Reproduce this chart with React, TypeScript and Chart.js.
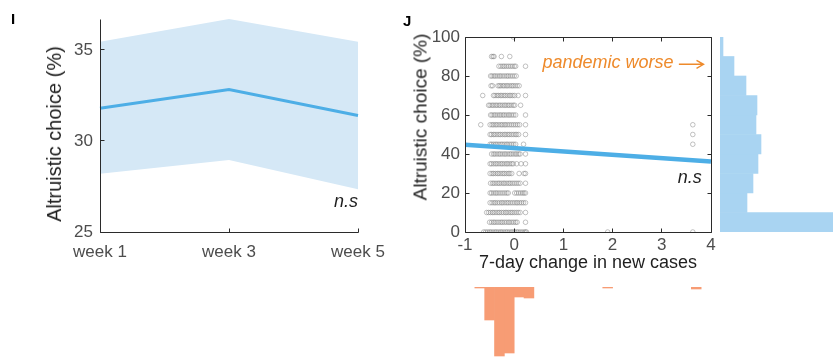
import React, { useEffect, useRef } from "react";
import { Chart, registerables } from "chart.js";
Chart.register(...registerables);

// ---------- Panel I data ----------
const weekLabels = ["week 1", "week 3", "week 5"];
const weekMean = [31.8, 32.83, 31.4];
const weekUpper = [35.45, 36.7, 35.45];
const weekLower = [28.2, 28.95, 27.35];
const weekTicks = [25, 30, 35];

// ---------- Panel J data ----------
const choiceLevels = [100, 90, 85, 80, 75, 70, 65, 60, 55, 50, 45, 40, 35, 30, 25, 20, 15, 10, 5, 0];
const caseChangeByLevel = [
  [-0.02],
  [-0.46, -0.43, -0.41, -0.26, -0.09],
  [-0.31, -0.27, -0.23, -0.2, -0.16, -0.12, -0.08, -0.04, 0.0, 0.03, 0.23],
  [-0.48, -0.45, -0.41, -0.38, -0.34, -0.3, -0.27, -0.23, -0.19, -0.15, -0.12, -0.08, -0.04, 0.0, 0.04],
  [-0.47, -0.44, -0.33, -0.3, -0.27, -0.23, -0.2, -0.16, -0.13, -0.09, -0.05, -0.02, 0.02, 0.06, 0.1],
  [-0.64, -0.42, -0.39, -0.35, -0.32, -0.28, -0.25, -0.21, -0.18, -0.14, -0.1, -0.07, -0.03, 0.01, 0.08, 0.23],
  [-0.52, -0.49, -0.45, -0.42, -0.38, -0.35, -0.31, -0.28, -0.24, -0.2, -0.17, -0.13, -0.1, -0.06, -0.02, 0.01, 0.13],
  [-0.48, -0.45, -0.41, -0.38, -0.34, -0.3, -0.27, -0.23, -0.2, -0.16, -0.12, -0.09, -0.05, -0.01, 0.03, 0.23],
  [-0.68, -0.49, -0.45, -0.42, -0.38, -0.35, -0.31, -0.27, -0.24, -0.2, -0.17, -0.13, -0.09, -0.05, -0.01, 0.03, 0.07, 0.11, 0.23, 3.63],
  [-0.49, -0.46, -0.42, -0.39, -0.35, -0.31, -0.28, -0.24, -0.2, -0.17, -0.13, -0.1, -0.06, -0.02, 0.02, 0.05, 0.09, 0.23, 3.63],
  [-0.49, -0.46, -0.42, -0.38, -0.35, -0.31, -0.27, -0.24, -0.2, -0.16, -0.13, -0.09, -0.05, -0.01, 0.03, 0.19, 3.63],
  [-0.46, -0.42, -0.39, -0.35, -0.31, -0.28, -0.24, -0.2, -0.17, -0.13, -0.09, -0.06, -0.02, 0.02, 0.05, 0.09, 0.12, 0.23],
  [-0.49, -0.46, -0.42, -0.38, -0.35, -0.31, -0.27, -0.24, -0.2, -0.16, -0.13, -0.09, -0.05, -0.02, 0.05, 0.14, 0.23],
  [-0.49, -0.45, -0.42, -0.38, -0.34, -0.31, -0.27, -0.23, -0.2, -0.16, -0.12, -0.09, -0.05, 0.1, 0.2, 0.23],
  [-0.48, -0.44, -0.41, -0.37, -0.33, -0.3, -0.26, -0.22, -0.19, -0.15, -0.11, -0.08, -0.04, 0.0, 0.04, 0.08, 0.12, 0.23],
  [-0.49, -0.46, -0.42, -0.38, -0.35, -0.31, -0.27, -0.23, -0.19, -0.15, -0.12, 0.01, 0.05, 0.09, 0.13, 0.17, 0.2, 0.23],
  [-0.49, -0.45, -0.41, -0.38, -0.34, -0.3, -0.26, -0.23, -0.19, -0.15, -0.12, -0.08, -0.04, 0.0, 0.04, 0.07, 0.11, 0.15, 0.19, 0.23],
  [-0.56, -0.52, -0.48, -0.44, -0.41, -0.37, -0.33, -0.3, -0.26, -0.22, -0.18, -0.15, -0.11, -0.07, -0.04, 0.0, 0.04, 0.08, 0.12, 0.23],
  [-0.5, -0.46, -0.42, -0.39, -0.35, -0.31, -0.27, -0.24, -0.2, -0.16, -0.12, -0.09, -0.05, -0.01, 0.03, 0.06, 0.23],
  [-0.62, -0.58, -0.54, -0.5, -0.47, -0.43, -0.39, -0.36, -0.32, -0.28, -0.25, -0.21, -0.17, -0.14, -0.1, -0.06, -0.03, 0.01, 0.05, 0.08, 0.12, 0.16, 0.2, 0.23, 0.25, 1.9, 3.63],
];
const fitX = [-1, 4];
const fitY = [44.8, 36.2];

const choiceBinCenters = [5, 15, 25, 35, 45, 55, 65, 75, 85, 95];
const choiceBinCounts = [115, 27, 33, 38, 41, 36, 37, 26, 14, 3];
const caseBinCenters = [-0.7, -0.5, -0.3, -0.1, 0.1, 0.3, 1.9, 3.7];
const caseBinCounts = [1, 33, 69, 66, 10, 11, 1, 2];

// ---------- style ----------
const FONT = '"Liberation Sans", Arial, Helvetica, sans-serif';
const TICK_COLOR = "#4d4d4d";
const TITLE_COLOR = "#1f1f1f";
const AXIS_COLOR = "#2b2b2b";
const LINE_BLUE = "#4DAEE6";
const BAND_BLUE = "#D5E8F6";
const HIST_BLUE = "#A9D4F2";
const HIST_ORANGE = "#F79C74";
const NOTE_ORANGE = "#EE8A2B";

function makeFrame(box: boolean) {
  return {
    id: "frame" + (box ? "Box" : "Open"),
    afterDraw(chart: any) {
      const { ctx, chartArea: a } = chart;
      const xs = chart.scales.x, ys = chart.scales.y;
      const L = Math.floor(a.left) + 0.5, R = Math.floor(a.right) + 0.5;
      const T = Math.floor(a.top) + 0.5, B = Math.floor(a.bottom) + 0.5;
      const len = 4;
      ctx.save();
      ctx.strokeStyle = AXIS_COLOR;
      ctx.lineWidth = 1;
      ctx.beginPath();
      if (box) {
        ctx.rect(L, T, R - L, B - T);
      } else {
        ctx.moveTo(L, T); ctx.lineTo(L, B); ctx.lineTo(R, B);
      }
      xs.ticks.forEach((_t: any, i: number) => {
        const px = Math.floor(xs.getPixelForTick(i)) + 0.5;
        ctx.moveTo(px, B); ctx.lineTo(px, B - len);
        if (box) { ctx.moveTo(px, T); ctx.lineTo(px, T + len); }
      });
      ys.ticks.forEach((_t: any, i: number) => {
        const py = Math.floor(ys.getPixelForTick(i)) + 0.5;
        ctx.moveTo(L, py); ctx.lineTo(L + len, py);
        if (box) { ctx.moveTo(R, py); ctx.lineTo(R - len, py); }
      });
      ctx.stroke();
      ctx.restore();
    },
  };
}

type Note = { x: number; y: number; text?: string; font?: string; color: string; align?: CanvasTextAlign; arrowTo?: number };
function makeNotes(id: string, items: Note[]) {
  return {
    id,
    afterDraw(chart: any) {
      const { ctx } = chart;
      const xs = chart.scales.x, ys = chart.scales.y;
      ctx.save();
      for (const it of items) {
        const px = xs.getPixelForValue(it.x), py = ys.getPixelForValue(it.y);
        if (it.text) {
          ctx.font = it.font;
          ctx.fillStyle = it.color;
          ctx.textAlign = it.align || "left";
          ctx.textBaseline = "alphabetic";
          ctx.fillText(it.text, px, py);
        }
        if (it.arrowTo !== undefined) {
          const qx = xs.getPixelForValue(it.arrowTo);
          ctx.strokeStyle = it.color;
          ctx.lineWidth = 1.4;
          ctx.beginPath();
          ctx.moveTo(px, py); ctx.lineTo(qx, py);
          ctx.moveTo(qx - 7, py - 4); ctx.lineTo(qx, py); ctx.lineTo(qx - 7, py + 4);
          ctx.stroke();
        }
      }
      ctx.restore();
    },
  };
}

const tickFont = { family: FONT, size: 17 };
const noGrid = { display: false, drawTicks: false };

export default function App() {
  const refI = useRef<HTMLCanvasElement>(null);
  const refJ = useRef<HTMLCanvasElement>(null);
  const refR = useRef<HTMLCanvasElement>(null);
  const refB = useRef<HTMLCanvasElement>(null);

  useEffect(() => {
    Chart.defaults.font.family = FONT;
    const charts: Chart[] = [];

    // Panel I
    charts.push(new Chart(refI.current!, {
      type: "line",
      data: {
        labels: weekLabels,
        datasets: [
          { data: weekUpper, borderColor: "rgba(0,0,0,0)", borderWidth: 0, pointRadius: 0, fill: "+1", backgroundColor: BAND_BLUE, order: 2 } as any,
          { data: weekLower, borderColor: "rgba(0,0,0,0)", borderWidth: 0, pointRadius: 0, fill: false, order: 2 },
          { data: weekMean, borderColor: LINE_BLUE, borderWidth: 3, pointRadius: 0, fill: false, order: 0 },
        ],
      },
      options: {
        responsive: false, animation: false, events: [],
        layout: { padding: { left: 0, top: 19, right: 42, bottom: 0 } },
        plugins: { legend: { display: false }, tooltip: { enabled: false } },
        scales: {
          x: {
            type: "category", offset: false,
            grid: noGrid, border: { display: false },
            ticks: { color: TICK_COLOR, font: tickFont, padding: 10, maxRotation: 0, autoSkip: false },
            afterFit: (s: any) => { s.height = 58; },
          },
          y: {
            min: 25, max: 36.7,
            grid: noGrid, border: { display: false },
            ticks: { color: TICK_COLOR, font: tickFont, padding: 7 },
            afterBuildTicks: (ax: any) => { ax.ticks = weekTicks.map((v) => ({ value: v })); },
            afterFit: (s: any) => { s.width = 100; },
          },
        },
      } as any,
      plugins: [makeFrame(false), makeNotes("notesI", [
        { x: 2, y: 26.37, text: "n.s", font: `italic 18px ${FONT}`, color: TITLE_COLOR, align: "right" },
      ])],
    }));

    // Panel J scatter
    const pts: { x: number; y: number }[] = [];
    choiceLevels.forEach((lv, i) => caseChangeByLevel[i].forEach((x) => pts.push({ x, y: lv })));
    charts.push(new Chart(refJ.current!, {
      type: "scatter",
      data: {
        datasets: [
          { type: "line", data: fitX.map((x, i) => ({ x, y: fitY[i] })), borderColor: LINE_BLUE, borderWidth: 4.5, pointRadius: 0, fill: false, order: 0 } as any,
          { type: "scatter", data: pts, pointRadius: 2.3, borderWidth: 1, borderColor: "rgba(120,120,120,0.45)", backgroundColor: "rgba(0,0,0,0)", order: 1 },
        ],
      },
      options: {
        responsive: false, animation: false, events: [],
        layout: { padding: { left: 0, top: 37, right: 9, bottom: 0 } },
        plugins: { legend: { display: false }, tooltip: { enabled: false } },
        scales: {
          x: {
            type: "linear", min: -1, max: 4,
            grid: noGrid, border: { display: false },
            ticks: { stepSize: 1, color: TICK_COLOR, font: tickFont, padding: 3, maxRotation: 0 },
            title: { display: true, text: "7-day change in new cases", color: TITLE_COLOR, font: { family: FONT, size: 18 }, padding: { top: 0, bottom: 6 } },
            afterFit: (s: any) => { s.height = 48; },
          },
          y: {
            type: "linear", min: 0, max: 100,
            grid: noGrid, border: { display: false },
            ticks: { stepSize: 20, color: TICK_COLOR, font: tickFont, padding: 5 },
            afterFit: (s: any) => { s.width = 65; },
          },
        },
      } as any,
      plugins: [makeFrame(true), makeNotes("notesJ", [
        { x: 3.24, y: 84.1, text: "pandemic worse", font: `italic 18px ${FONT}`, color: NOTE_ORANGE, align: "right" },
        { x: 3.347, y: 86.0, color: NOTE_ORANGE, arrowTo: 3.848 },
        { x: 3.81, y: 24.95, text: "n.s", font: `italic 18px ${FONT}`, color: TITLE_COLOR, align: "right" },
      ])],
    }));

    // Right histogram (choice)
    charts.push(new Chart(refR.current!, {
      type: "bar",
      data: {
        datasets: [{
          data: choiceBinCenters.map((c, i) => ({ x: choiceBinCounts[i], y: c })),
          backgroundColor: HIST_BLUE, borderWidth: 0, barPercentage: 1, categoryPercentage: 1,
        }],
      },
      options: {
        indexAxis: "y",
        responsive: false, animation: false, events: [],
        layout: { padding: 0 },
        plugins: { legend: { display: false }, tooltip: { enabled: false } },
        scales: {
          x: { type: "linear", min: 0, max: 113, display: false, offset: false },
          y: { type: "linear", min: 0, max: 100, display: false, offset: false },
        },
      } as any,
    }));

    // Bottom histogram (case change)
    charts.push(new Chart(refB.current!, {
      type: "bar",
      data: {
        datasets: [{
          data: caseBinCenters.map((c, i) => ({ x: c, y: caseBinCounts[i] })),
          backgroundColor: HIST_ORANGE, borderWidth: 0, barPercentage: 1, categoryPercentage: 1,
        }],
      },
      options: {
        responsive: false, animation: false, events: [],
        layout: { padding: 0 },
        plugins: { legend: { display: false }, tooltip: { enabled: false } },
        scales: {
          x: { type: "linear", min: -1, max: 4, display: false, offset: false },
          y: { type: "linear", min: 0, max: 71, reverse: true, display: false, offset: false },
        },
      } as any,
    }));

    return () => charts.forEach((c) => c.destroy());
  }, []);

  const abs = (l: number, t: number): React.CSSProperties => ({ position: "absolute", left: l, top: t });
  const yTitle = (cx: number, cy: number, size: number): React.CSSProperties => ({
    position: "absolute", left: cx, top: cy, transform: "translate(-50%, -50%) rotate(-90deg)",
    whiteSpace: "nowrap", fontFamily: FONT, fontSize: size, color: TITLE_COLOR, lineHeight: 1,
  });
  const panelLabel = (l: number, t: number): React.CSSProperties => ({
    position: "absolute", left: l, top: t, fontFamily: FONT, fontWeight: "bold", fontSize: 15, lineHeight: "15px", color: "#000",
  });

  return (
    <div style={{ position: "absolute", left: 0, top: 0, width: 833, height: 358, background: "#fff", overflow: "hidden" }}>
      <canvas ref={refI} width={400} height={290} style={abs(0, 0)} />
      <canvas ref={refJ} width={320} height={280} style={abs(400, 0)} />
      <canvas ref={refR} width={113} height={195} style={abs(720, 37)} />
      <canvas ref={refB} width={246} height={71} style={abs(465, 287)} />
      <div style={panelLabel(11, 11)}>I</div>
      <div style={panelLabel(403, 13)}>J</div>
      <div style={yTitle(54, 133.5, 20)}>Altruistic choice (%)</div>
      <div style={yTitle(420, 116.5, 19)}>Altruistic choice (%)</div>
    </div>
  );
}
